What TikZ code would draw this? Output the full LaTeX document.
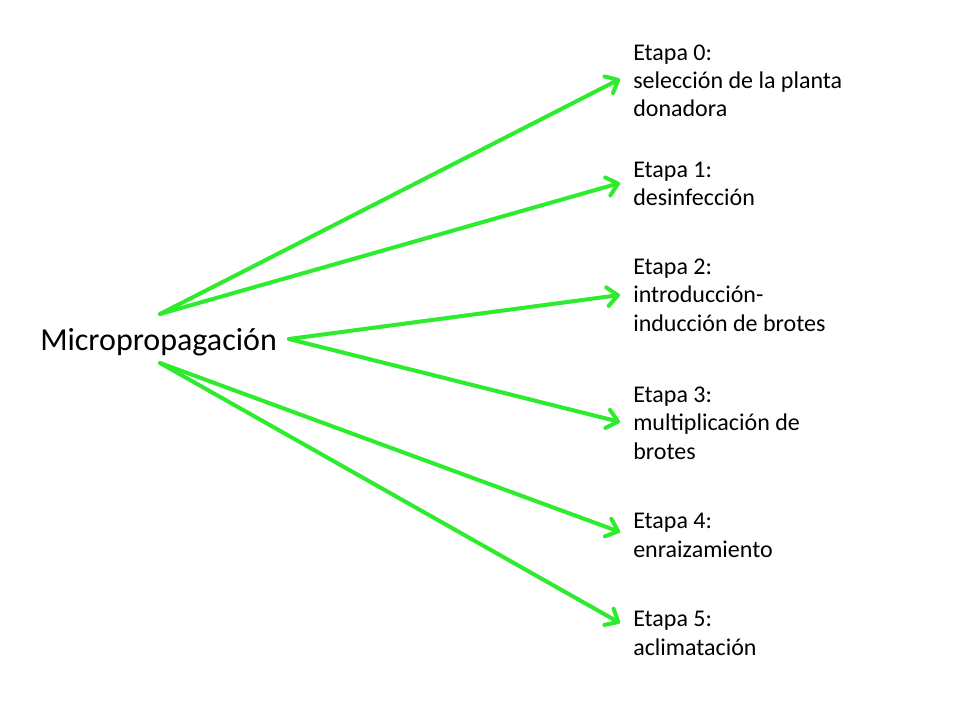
\documentclass[tikz,border=0pt]{standalone}
\usepackage{fontspec}
\setmainfont{Carlito}
\usetikzlibrary{arrows.meta}
\definecolor{arrowgreen}{RGB}{45,235,45}
\begin{document}
\begin{tikzpicture}[x=0.75pt,y=-0.75pt,
  stagelabel/.style={anchor=base west,inner sep=0pt,align=left,font=\fontsize{18}{21.3}\selectfont},
  mainlabel/.style={anchor=base west,inner sep=0pt,font=\fontsize{24}{28}\selectfont},
  greenarrow/.style={draw=arrowgreen,line width=3pt,line cap=round,
    -{Straight Barb[length=8pt,width=14pt,line width=3pt,round]}}]
\useasboundingbox (0,0) rectangle (960,720);
\fill[white] (0,0) rectangle (960,720);
\node[mainlabel] (main) at (40,350) {Micropropagación};
\coordinate (top) at (160,314);
\coordinate (mid) at (289,339);
\coordinate (bot) at (160,363);
\node[stagelabel] (e0) at (633,117) {Etapa 0:\\selección de la planta\\donadora};
\node[stagelabel] (e1) at (633,206) {Etapa 1:\\desinfección};
\node[stagelabel] (e2) at (633,331) {Etapa 2:\\introducción-\\inducción de brotes};
\node[stagelabel] (e3) at (633,459) {Etapa 3:\\multiplicación de\\brotes};
\node[stagelabel] (e4) at (633,557) {Etapa 4:\\enraizamiento};
\node[stagelabel] (e5) at (633,655) {Etapa 5:\\aclimatación};
\coordinate (t0) at (620,79);
\coordinate (t1) at (620,183);
\coordinate (t2) at (620,295);
\coordinate (t3) at (620,422);
\coordinate (t4) at (620,532);
\coordinate (t5) at (620,623);
\draw[greenarrow] (top) -- (t0);
\draw[greenarrow] (top) -- (t1);
\draw[greenarrow] (mid) -- (t2);
\draw[greenarrow] (mid) -- (t3);
\draw[greenarrow] (bot) -- (t4);
\draw[greenarrow] (bot) -- (t5);
\end{tikzpicture}
\end{document}
